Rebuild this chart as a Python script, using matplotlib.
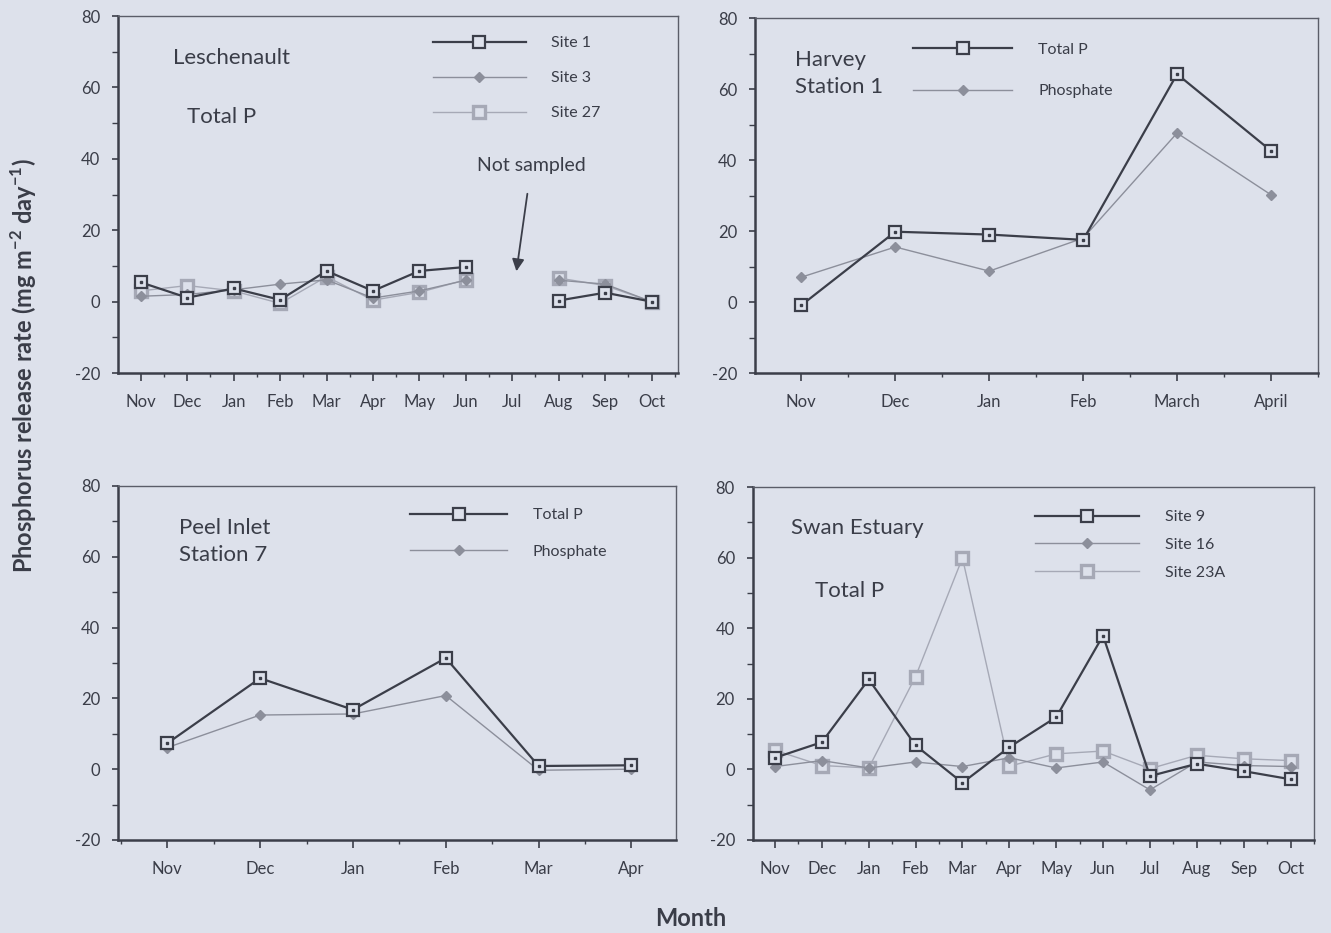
import numpy as np
import matplotlib
matplotlib.use('Agg')
import matplotlib.pyplot as plt
from matplotlib.ticker import MultipleLocator

plt.rcParams['font.family'] = ['Lato', 'DejaVu Sans']
plt.rcParams['mathtext.fontset'] = 'custom'
plt.rcParams['mathtext.rm'] = 'Lato'
plt.rcParams['mathtext.bf'] = 'Lato:bold'

nan = np.nan

# Leschenault, total P
lesch_months = ['Nov', 'Dec', 'Jan', 'Feb', 'Mar', 'Apr', 'May', 'Jun', 'Jul', 'Aug', 'Sep', 'Oct']
lesch_site1 = [5.4, 1.1, 3.7, 0.5, 8.6, 3.0, 8.6, 9.7, nan, 0.3, 2.5, 0.0]
lesch_site3 = [1.5, 2.0, 3.3, 4.9, 6.1, 1.0, 3.0, 6.0, nan, 6.0, 4.9, 0.0]
lesch_site27 = [3.0, 4.5, 3.0, -0.5, 7.0, 0.4, 2.6, 6.1, nan, 6.6, 4.5, 0.0]

# Harvey Station 1
harvey_months = ['Nov', 'Dec', 'Jan', 'Feb', 'March', 'April']
harvey_totalp = [-0.9, 19.8, 19.0, 17.5, 64.2, 42.6]
harvey_phosphate = [7.0, 15.5, 8.7, 18.0, 47.6, 30.2]

# Peel Inlet Station 7
peel_months = ['Nov', 'Dec', 'Jan', 'Feb', 'Mar', 'Apr']
peel_totalp = [7.3, 25.7, 16.8, 31.4, 0.9, 1.1]
peel_phosphate = [6.1, 15.3, 15.6, 20.8, -0.3, 0.0]

# Swan Estuary, total P
swan_months = ['Nov', 'Dec', 'Jan', 'Feb', 'Mar', 'Apr', 'May', 'Jun', 'Jul', 'Aug', 'Sep', 'Oct']
swan_site9 = [3.3, 7.7, 25.5, 6.8, -3.8, 6.3, 14.8, 37.9, -1.9, 1.6, -0.5, -2.8]
swan_site16 = [0.8, 2.5, 0.4, 2.1, 0.8, 3.3, 0.4, 2.1, -5.8, 2.1, 1.1, 0.8]
swan_site23a = [5.4, 1.1, 0.4, 26.3, 59.9, 0.9, 4.4, 5.2, 0.2, 4.0, 3.0, 2.5]

bg = '#dde1eb'
dark = '#3b3e49'
mid = '#8c8f9b'
light = '#a6a9b6'
txt = '#3a3d48'


def dark_line(ax, x, y, label):
    ax.plot(x, y, color=dark, lw=1.6, marker='s', ms=8.5, mfc=bg, mec=dark, mew=1.6,
            label=label, zorder=5)
    # small dot in the middle of each square
    ax.plot(x, y, ls='none', marker='s', ms=1.6, color=dark, zorder=6)


def diamond_line(ax, x, y, label):
    ax.plot(x, y, color=mid, lw=1.0, marker='D', ms=5, mfc=mid, mec=mid,
            label=label, zorder=4)


def light_line(ax, x, y, label):
    ax.plot(x, y, color=light, lw=1.0, marker='s', ms=8.5, mfc=bg, mec=light, mew=2.4,
            label=label, zorder=3)


def style_axes(ax, months, xlim):
    ax.set_facecolor(bg)
    ax.set_xlim(*xlim)
    ax.set_ylim(-20, 80)
    ax.set_xticks(range(len(months)))
    ax.set_xticklabels(months)
    ax.xaxis.set_minor_locator(MultipleLocator(0.5))
    ax.set_yticks([-20, 0, 20, 40, 60, 80])
    ax.set_yticklabels(['-20', '0', '20', '40', '60', '80'])
    ax.yaxis.set_minor_locator(MultipleLocator(10))
    ax.tick_params(axis='both', which='major', colors=dark, labelcolor=txt,
                   labelsize=12, direction='out', width=1.2)
    ax.tick_params(axis='x', which='major', length=6, pad=9)
    ax.tick_params(axis='y', which='major', length=4, pad=9)
    ax.tick_params(axis='x', which='minor', colors=dark, direction='out',
                   length=3, width=1.0)
    ax.tick_params(axis='y', which='minor', colors=dark, direction='out',
                   length=4, width=1.0)
    for side in ['left', 'bottom']:
        ax.spines[side].set_color(dark)
        ax.spines[side].set_linewidth(1.8)
    for side in ['top', 'right']:
        ax.spines[side].set_color('#5a5d68')
        ax.spines[side].set_linewidth(1.0)


def add_legend(ax, handles, labels, anchor, handlelength, spacing):
    leg = ax.legend(handles, labels, loc='upper left', bbox_to_anchor=anchor,
                    frameon=False, fontsize=11.5, handlelength=handlelength,
                    handletextpad=1.6, labelspacing=spacing, borderpad=0,
                    borderaxespad=0)
    for t in leg.get_texts():
        t.set_color(txt)


fig = plt.figure(figsize=(13.31, 9.33), dpi=100)
fig.patch.set_facecolor(bg)

ax1 = fig.add_axes([0.0887, 0.6002, 0.4207, 0.3826])
ax2 = fig.add_axes([0.5675, 0.6002, 0.4227, 0.3805])
ax3 = fig.add_axes([0.0887, 0.0997, 0.4192, 0.3794])
ax4 = fig.add_axes([0.5657, 0.0997, 0.4215, 0.3783])

# Leschenault
x = np.arange(len(lesch_months))
dark_line(ax1, x, lesch_site1, 'Site 1')
diamond_line(ax1, x, lesch_site3, 'Site 3')
light_line(ax1, x, lesch_site27, 'Site 27')
style_axes(ax1, lesch_months, (-0.49, 11.57))
h, l = ax1.get_legend_handles_labels()
add_legend(ax1, h, l, (0.5625, 0.944), 5.8, 1.3)
ax1.text(0.098, 0.882, 'Leschenault', transform=ax1.transAxes, fontsize=16,
         color=txt, va='center')
ax1.text(0.123, 0.717, 'Total P', transform=ax1.transAxes, fontsize=16,
         color=txt, va='center')
ax1.annotate('Not sampled', xy=(8.09, 8.5), xytext=(8.41, 38), fontsize=14,
             color=txt, ha='center', va='center',
             arrowprops=dict(arrowstyle='-|>', color=dark, lw=1.3,
                             mutation_scale=18, shrinkA=12, shrinkB=0))

# Harvey
x = np.arange(len(harvey_months))
dark_line(ax2, x, harvey_totalp, 'Total P')
diamond_line(ax2, x, harvey_phosphate, 'Phosphate')
style_axes(ax2, harvey_months, (-0.49, 5.5))
h, l = ax2.get_legend_handles_labels()
add_legend(ax2, h, l, (0.281, 0.93), 6.2, 1.7)
ax2.text(0.071, 0.91, 'Harvey\nStation 1', transform=ax2.transAxes, fontsize=16,
         color=txt, va='top', linespacing=1.45)

# Peel Inlet
x = np.arange(len(peel_months))
dark_line(ax3, x, peel_totalp, 'Total P')
diamond_line(ax3, x, peel_phosphate, 'Phosphate')
style_axes(ax3, peel_months, (-0.53, 5.48))
h, l = ax3.get_legend_handles_labels()
add_legend(ax3, h, l, (0.523, 0.938), 6.1, 1.4)
ax3.text(0.109, 0.91, 'Peel Inlet\nStation 7', transform=ax3.transAxes, fontsize=16,
         color=txt, va='top', linespacing=1.45)

# Swan Estuary
x = np.arange(len(swan_months))
light_line(ax4, x, swan_site23a, 'Site 23A')
diamond_line(ax4, x, swan_site16, 'Site 16')
dark_line(ax4, x, swan_site9, 'Site 9')
style_axes(ax4, swan_months, (-0.47, 11.5))
h, l = ax4.get_legend_handles_labels()
order = [l.index('Site 9'), l.index('Site 16'), l.index('Site 23A')]
add_legend(ax4, [h[i] for i in order], [l[i] for i in order], (0.503, 0.935), 6.5, 0.85)
ax4.text(0.068, 0.884, 'Swan Estuary', transform=ax4.transAxes, fontsize=16,
         color=txt, va='center')
ax4.text(0.11, 0.705, 'Total P', transform=ax4.transAxes, fontsize=16,
         color=txt, va='center')

fig.text(0.018, 0.608, r'Phosphorus release rate (mg m$^{\mathbf{-2}}$ day$^{\mathbf{-1}}$)',
         rotation=90, fontsize=17, fontweight='bold', color=txt, ha='center', va='center')
fig.text(0.519, 0.003, 'Month', fontsize=17, fontweight='bold', color=txt,
         ha='center', va='bottom')

fig.savefig('out.png', dpi=100, facecolor=bg)
